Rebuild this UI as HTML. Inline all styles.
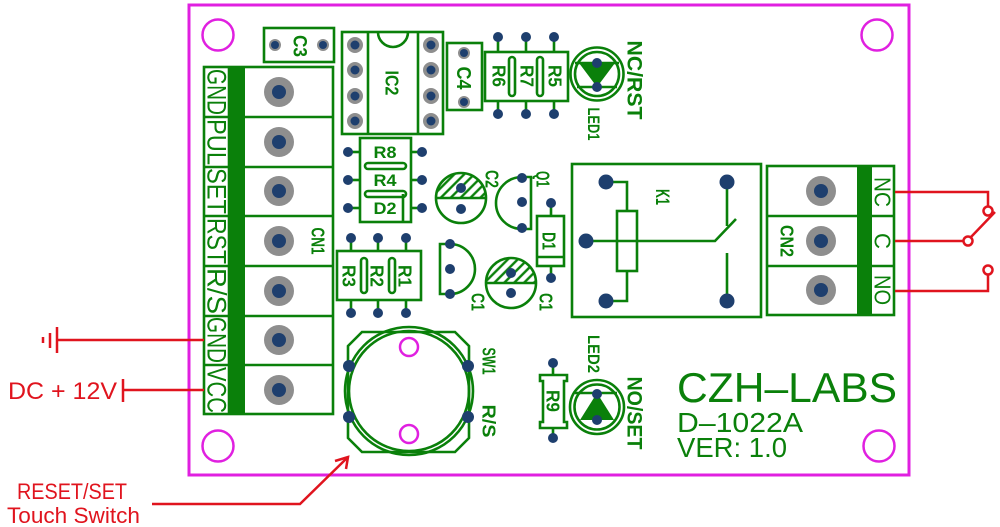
<!DOCTYPE html>
<html><head><meta charset="utf-8"><style>
html,body{margin:0;padding:0;background:#fff;}
svg{display:block;}
text{font-family:"Liberation Sans",sans-serif;}
</style></head><body>
<svg width="1000" height="527" viewBox="0 0 1000 527" xmlns="http://www.w3.org/2000/svg">
<defs>
<pattern id="h" width="7" height="7" patternUnits="userSpaceOnUse" patternTransform="rotate(45)"><line x1="3.5" y1="0" x2="3.5" y2="7" stroke="#0a800a" stroke-width="2.4"/></pattern>
</defs>
<rect width="1000" height="527" fill="#fff"/>

<!-- board outline -->
<rect x="189" y="5" width="720" height="470" fill="none" stroke="#e020e0" stroke-width="3"/>
<g fill="none" stroke="#e020e0" stroke-width="2.5">
<circle cx="218" cy="35" r="15.5"/><circle cx="877" cy="35" r="15.5"/>
<circle cx="218" cy="446" r="15.5"/><circle cx="879" cy="446" r="15.5"/>
</g>

<g fill="none" stroke="#0a800a" stroke-width="2.6">
<!-- CN1 -->
<rect x="204" y="67" width="129" height="347"/>
<line x1="229" y1="67" x2="229" y2="414"/>
<line x1="204" y1="117" x2="333" y2="117"/><line x1="204" y1="167" x2="333" y2="167"/>
<line x1="204" y1="216" x2="333" y2="216"/><line x1="204" y1="266" x2="333" y2="266"/>
<line x1="204" y1="316" x2="333" y2="316"/><line x1="204" y1="365" x2="333" y2="365"/>
<!-- C3 -->
<rect x="264" y="28" width="70" height="34"/>
<!-- IC2 -->
<rect x="342" y="32" width="101" height="102"/>
<line x1="368" y1="32" x2="368" y2="134"/><line x1="418" y1="32" x2="418" y2="134"/>
<path d="M378 32 A15 15 0 0 0 408 32"/>
<!-- C4 -->
<rect x="447" y="43" width="35" height="67"/>
<!-- R6 R7 R5 -->
<rect x="485" y="52" width="83" height="49"/>
<rect x="509" y="57" width="6" height="39" rx="3"/><rect x="537" y="57" width="6" height="39" rx="3"/>
<line x1="498" y1="37" x2="498" y2="52"/><line x1="526" y1="37" x2="526" y2="52"/><line x1="554" y1="37" x2="554" y2="52"/>
<line x1="498" y1="101" x2="498" y2="114"/><line x1="526" y1="101" x2="526" y2="114"/><line x1="554" y1="101" x2="554" y2="114"/>
<!-- LED1 -->
<circle cx="597" cy="74" r="26.5"/><circle cx="597" cy="74" r="22"/>
<line x1="575" y1="63" x2="619" y2="63"/>
<line x1="577" y1="87" x2="617" y2="87"/>
<!-- R8 R4 D2 -->
<rect x="360" y="138" width="51" height="84"/>
<rect x="365" y="163" width="41" height="6" rx="3"/><rect x="365" y="191" width="41" height="6" rx="3"/>
<line x1="403" y1="194" x2="403" y2="222"/>
<line x1="348" y1="152" x2="360" y2="152"/><line x1="411" y1="152" x2="422" y2="152"/>
<line x1="348" y1="180" x2="360" y2="180"/><line x1="411" y1="180" x2="422" y2="180"/>
<line x1="348" y1="208" x2="360" y2="208"/><line x1="411" y1="208" x2="422" y2="208"/>
<!-- R3 R2 R1 -->
<rect x="337" y="251" width="84" height="49"/>
<rect x="361" y="258" width="6" height="35" rx="3"/><rect x="389" y="258" width="6" height="35" rx="3"/>
<line x1="351" y1="238" x2="351" y2="251"/><line x1="378" y1="238" x2="378" y2="251"/><line x1="406" y1="238" x2="406" y2="251"/>
<line x1="351" y1="300" x2="351" y2="313"/><line x1="378" y1="300" x2="378" y2="313"/><line x1="406" y1="300" x2="406" y2="313"/>
<!-- C2 -->
<circle cx="461" cy="198" r="25"/><line x1="436" y1="198" x2="486" y2="198"/>
<!-- Q1 -->
<path d="M531 177 L522 177 A26 26 0 0 0 522 229 L531 229 Z"/>
<!-- Q lower -->
<path d="M440 244 L450 244 A25 25 0 0 1 450 294 L440 294 Z"/>
<!-- C1 -->
<circle cx="511" cy="283" r="25"/><line x1="486" y1="283" x2="536" y2="283"/>
<!-- D1 -->
<rect x="537" y="216" width="27" height="50"/><line x1="537" y1="257" x2="564" y2="257"/>
<line x1="551" y1="203" x2="551" y2="216"/><line x1="551" y1="266" x2="551" y2="278"/>
<!-- K1 relay -->
<rect x="572" y="164" width="189" height="153"/>
<path d="M606 182 H627 V211"/><rect x="617" y="211" width="20" height="60"/><path d="M627 271 V301 H606"/>
<path d="M586 241 H715 L736 219"/>
<line x1="727" y1="182" x2="727" y2="226"/><line x1="727" y1="301" x2="727" y2="253"/>
<!-- CN2 -->
<rect x="767" y="166" width="127" height="149"/>
<line x1="767" y1="216" x2="894" y2="216"/><line x1="767" y1="266" x2="894" y2="266"/>
<!-- SW1 -->
<path d="M362 332 H455 L469 346 V438 L455 452 H362 L348 438 V346 Z"/>
<circle cx="409" cy="391" r="64"/><circle cx="409" cy="391" r="60"/>
<!-- R9 -->
<path d="M540 375 H567 V381 H564 V422 H567 V428 H540 V422 H543 V381 H540 Z"/>
<line x1="553" y1="363" x2="553" y2="375"/><line x1="553" y1="428" x2="553" y2="438"/>
<!-- LED2 -->
<circle cx="597" cy="407" r="27"/><circle cx="597" cy="407" r="22.5"/>
<line x1="575" y1="393" x2="617" y2="393"/>
</g>

<!-- filled green bits -->
<g fill="#0a800a">
<rect x="229" y="67" width="16" height="347"/>
<rect x="857" y="166" width="15" height="149"/>
<polygon points="579,63 615,63 597,87"/>
<polygon points="597,393 614,420 580,420"/>
</g>
<path d="M436 198 A25 25 0 0 1 486 198 Z" fill="url(#h)"/>
<path d="M486 283 A25 25 0 0 1 536 283 Z" fill="url(#h)"/>

<!-- SW1 magenta holes -->
<g fill="none" stroke="#e020e0" stroke-width="2.5">
<circle cx="409" cy="347" r="9"/><circle cx="409" cy="434" r="9"/>
</g>

<!-- big pads -->
<g fill="#8e8e8e">
<circle cx="279" cy="92" r="15"/><circle cx="279" cy="142" r="15"/><circle cx="279" cy="191" r="15"/>
<circle cx="279" cy="241" r="15"/><circle cx="279" cy="291" r="15"/><circle cx="279" cy="340" r="15"/><circle cx="279" cy="390" r="15"/>
<circle cx="821" cy="191" r="15"/><circle cx="821" cy="241" r="15"/><circle cx="821" cy="290" r="15"/>
<circle cx="355" cy="45" r="8"/><circle cx="355" cy="70" r="8"/><circle cx="355" cy="96" r="8"/><circle cx="355" cy="121" r="8"/>
<circle cx="431" cy="45" r="8"/><circle cx="431" cy="70" r="8"/><circle cx="431" cy="96" r="8"/><circle cx="431" cy="121" r="8"/>
<circle cx="275" cy="45" r="6"/><circle cx="323" cy="45" r="6"/>
<circle cx="464" cy="53" r="6"/><circle cx="464" cy="102" r="6"/>
</g>
<g fill="#1e3f6e">
<circle cx="279" cy="92" r="7"/><circle cx="279" cy="142" r="7"/><circle cx="279" cy="191" r="7"/>
<circle cx="279" cy="241" r="7"/><circle cx="279" cy="291" r="7"/><circle cx="279" cy="340" r="7"/><circle cx="279" cy="390" r="7"/>
<circle cx="821" cy="191" r="7"/><circle cx="821" cy="241" r="7"/><circle cx="821" cy="290" r="7"/>
<circle cx="355" cy="45" r="4.5"/><circle cx="355" cy="70" r="4.5"/><circle cx="355" cy="96" r="4.5"/><circle cx="355" cy="121" r="4.5"/>
<circle cx="431" cy="45" r="4.5"/><circle cx="431" cy="70" r="4.5"/><circle cx="431" cy="96" r="4.5"/><circle cx="431" cy="121" r="4.5"/>
<circle cx="275" cy="45" r="4"/><circle cx="323" cy="45" r="4"/>
<circle cx="464" cy="53" r="4"/><circle cx="464" cy="102" r="4"/>
<!-- small pins -->
<circle cx="498" cy="37" r="5"/><circle cx="526" cy="37" r="5"/><circle cx="554" cy="37" r="5"/>
<circle cx="498" cy="114" r="5"/><circle cx="526" cy="114" r="5"/><circle cx="554" cy="114" r="5"/>
<circle cx="597" cy="63" r="5"/><circle cx="597" cy="87" r="5"/>
<circle cx="348" cy="152" r="5"/><circle cx="422" cy="152" r="5"/>
<circle cx="348" cy="180" r="5"/><circle cx="422" cy="180" r="5"/>
<circle cx="348" cy="208" r="5"/><circle cx="422" cy="208" r="5"/>
<circle cx="351" cy="238" r="5"/><circle cx="378" cy="238" r="5"/><circle cx="406" cy="238" r="5"/>
<circle cx="351" cy="313" r="5"/><circle cx="378" cy="313" r="5"/><circle cx="406" cy="313" r="5"/>
<circle cx="461" cy="188" r="5"/><circle cx="461" cy="209" r="5"/>
<circle cx="522" cy="178" r="5"/><circle cx="522" cy="202" r="5"/><circle cx="522" cy="228" r="5"/>
<circle cx="450" cy="244" r="5"/><circle cx="450" cy="269" r="5"/><circle cx="450" cy="294" r="5"/>
<circle cx="511" cy="273" r="5"/><circle cx="511" cy="293" r="5"/>
<circle cx="551" cy="203" r="5"/><circle cx="551" cy="278" r="5"/>
<circle cx="606" cy="182" r="7.5"/><circle cx="606" cy="301" r="7.5"/><circle cx="586" cy="241" r="7.5"/>
<circle cx="727" cy="182" r="7.5"/><circle cx="727" cy="301" r="7.5"/>
<circle cx="349" cy="366" r="6"/><circle cx="349" cy="417" r="6"/><circle cx="468" cy="366" r="6"/><circle cx="468" cy="417" r="6"/>
<circle cx="553" cy="363" r="5"/><circle cx="553" cy="438" r="5"/>
<circle cx="597" cy="394" r="5"/><circle cx="597" cy="420" r="5"/>
</g>

<!-- green labels rotated -->
<g fill="#0a800a" text-anchor="middle">
<g font-size="27">
<text transform="translate(217,92) rotate(90)" y="9.5" textLength="46" lengthAdjust="spacingAndGlyphs">GND</text>
<text transform="translate(217,142) rotate(90)" y="9.5" textLength="46" lengthAdjust="spacingAndGlyphs">PUL</text>
<text transform="translate(217,191) rotate(90)" y="9.5" textLength="46" lengthAdjust="spacingAndGlyphs">SET</text>
<text transform="translate(217,241) rotate(90)" y="9.5" textLength="46" lengthAdjust="spacingAndGlyphs">RST</text>
<text transform="translate(217,291) rotate(90)" y="9.5" textLength="46" lengthAdjust="spacingAndGlyphs">R/S</text>
<text transform="translate(217,340) rotate(90)" y="9.5" textLength="46" lengthAdjust="spacingAndGlyphs">GND</text>
<text transform="translate(217,390) rotate(90)" y="9.5" textLength="46" lengthAdjust="spacingAndGlyphs">VCC</text>
</g>
<g font-size="23">
<text transform="translate(883,192) rotate(90)" y="8.3" textLength="30" lengthAdjust="spacingAndGlyphs">NC</text>
<text transform="translate(883,241) rotate(90)" y="8.3" textLength="16" lengthAdjust="spacingAndGlyphs">C</text>
<text transform="translate(883,290) rotate(90)" y="8.3" textLength="30" lengthAdjust="spacingAndGlyphs">NO</text>
</g>
<g font-size="18" font-weight="bold">
<text transform="translate(300,46) rotate(90)" y="6.5" textLength="22" lengthAdjust="spacingAndGlyphs" font-size="19">C3</text>
<text transform="translate(392,83) rotate(90)" y="6.5" textLength="25" lengthAdjust="spacingAndGlyphs">IC2</text>
<text transform="translate(464,78) rotate(90)" y="7" textLength="23" lengthAdjust="spacingAndGlyphs" font-size="20">C4</text>
<text transform="translate(499,76) rotate(90)" y="6.5" textLength="22" lengthAdjust="spacingAndGlyphs">R6</text>
<text transform="translate(527,76) rotate(90)" y="6.5" textLength="22" lengthAdjust="spacingAndGlyphs">R7</text>
<text transform="translate(555,76) rotate(90)" y="6.5" textLength="22" lengthAdjust="spacingAndGlyphs">R5</text>
<text transform="translate(349,276) rotate(90)" y="6.5" textLength="22" lengthAdjust="spacingAndGlyphs">R3</text>
<text transform="translate(377,276) rotate(90)" y="6.5" textLength="22" lengthAdjust="spacingAndGlyphs">R2</text>
<text transform="translate(405,276) rotate(90)" y="6.5" textLength="22" lengthAdjust="spacingAndGlyphs">R1</text>
<text transform="translate(318,241) rotate(90)" y="6.5" textLength="27" lengthAdjust="spacingAndGlyphs">CN1</text>
<text transform="translate(492,179) rotate(90)" y="6.5" textLength="18" lengthAdjust="spacingAndGlyphs">C2</text>
<text transform="translate(543,179) rotate(90)" y="6.5" textLength="16" lengthAdjust="spacingAndGlyphs">Q1</text>
<text transform="translate(549,241) rotate(90)" y="6.5" textLength="18" lengthAdjust="spacingAndGlyphs">D1</text>
<text transform="translate(478,302) rotate(90)" y="6.5" textLength="18" lengthAdjust="spacingAndGlyphs">C1</text>
<text transform="translate(546,302) rotate(90)" y="6.5" textLength="18" lengthAdjust="spacingAndGlyphs">C1</text>
<text transform="translate(663,197) rotate(90)" y="6.8" textLength="16" lengthAdjust="spacingAndGlyphs" font-size="19">K1</text>
<text transform="translate(787,241) rotate(90)" y="6.5" textLength="32" lengthAdjust="spacingAndGlyphs">CN2</text>
<text transform="translate(553,401) rotate(90)" y="6.5" textLength="22" lengthAdjust="spacingAndGlyphs">R9</text>
<text transform="translate(594,124) rotate(90)" y="6" font-size="17" textLength="33" lengthAdjust="spacingAndGlyphs">LED1</text>
<text transform="translate(594,354) rotate(90)" y="6" font-size="17" textLength="38" lengthAdjust="spacingAndGlyphs">LED2</text>
<text transform="translate(635,80) rotate(90)" y="7.6" font-size="21" textLength="79" lengthAdjust="spacingAndGlyphs">NC/RST</text>
<text transform="translate(635,413) rotate(90)" y="7.6" font-size="21" textLength="73" lengthAdjust="spacingAndGlyphs">NO/SET</text>
<text transform="translate(489,361) rotate(90)" y="6.5" textLength="27" lengthAdjust="spacingAndGlyphs">SW1</text>
<text transform="translate(489,421) rotate(90)" y="6.5" textLength="33" lengthAdjust="spacingAndGlyphs">R/S</text>
</g>
</g>
<g fill="#0a800a" font-size="17" font-weight="bold" text-anchor="middle">
<text x="385" y="158" textLength="23" lengthAdjust="spacingAndGlyphs">R8</text>
<text x="385" y="186" textLength="23" lengthAdjust="spacingAndGlyphs">R4</text>
<text x="385" y="214" textLength="23" lengthAdjust="spacingAndGlyphs">D2</text>
</g>
<g fill="#0a800a">
<text x="677" y="402" font-size="42" textLength="220" lengthAdjust="spacingAndGlyphs">CZH–LABS</text>
<text x="677" y="432" font-size="28" textLength="126" lengthAdjust="spacingAndGlyphs">D–1022A</text>
<text x="677" y="457" font-size="28" textLength="110" lengthAdjust="spacingAndGlyphs">VER: 1.0</text>
</g>

<!-- red wiring -->
<g fill="none" stroke="#e0141e" stroke-width="2.5">
<line x1="57" y1="340" x2="204" y2="340"/>
<line x1="57" y1="327" x2="57" y2="353"/>
<line x1="50" y1="333" x2="50" y2="348"/>
<line x1="43" y1="337" x2="43" y2="343"/>
<line x1="123" y1="390" x2="204" y2="390"/>
<line x1="123" y1="379" x2="123" y2="402"/>
<polyline points="152,504 300,504 347,458"/>
<polyline points="335,461 348,457 346,469"/>
<polyline points="895,192 988,192 988,206"/>
<circle cx="988" cy="211" r="4.5"/>
<line x1="895" y1="241" x2="963" y2="241"/>
<circle cx="968" cy="241" r="4.5"/>
<line x1="971" y1="237" x2="995" y2="212"/>
<polyline points="895,291 988,291 988,275"/>
<circle cx="988" cy="270" r="4.5"/>
</g>
<g fill="#e0141e">
<text x="8" y="399" font-size="24" textLength="109" lengthAdjust="spacingAndGlyphs">DC + 12V</text>
<text x="17" y="499" font-size="22" textLength="110" lengthAdjust="spacingAndGlyphs">RESET/SET</text>
<text x="7" y="523" font-size="22" textLength="133" lengthAdjust="spacingAndGlyphs">Touch Switch</text>
</g>
</svg>
</body></html>
